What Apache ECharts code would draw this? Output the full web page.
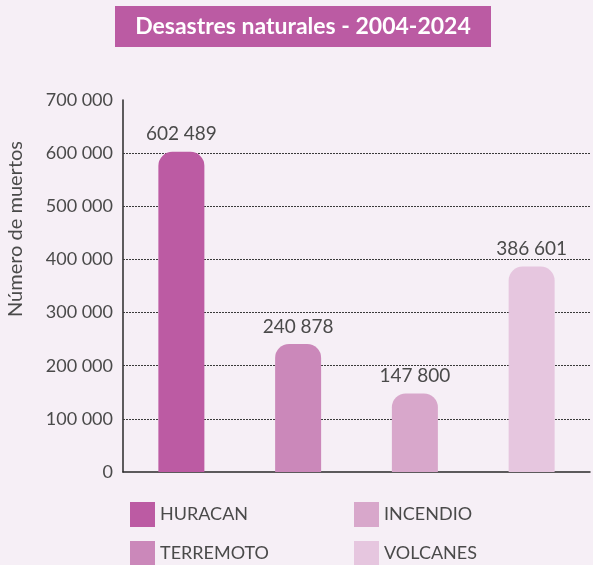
<!DOCTYPE html>
<html>
<head>
<meta charset="utf-8">
<script src="https://cdn.jsdelivr.net/npm/echarts@6/dist/echarts.min.js"></script>
<style>
  html, body { margin: 0; padding: 0; background: #f6eff6; }
  #chart { width: 593px; height: 565px; }
</style>
</head>
<body>
<div id="chart"></div>
<script>
// Deaths from natural disasters, 2004-2024
const categories = ['HURACAN', 'TERREMOTO', 'INCENDIO', 'VOLCANES'];
const deaths = [602489, 240878, 147800, 386601];
const barColors = ['#bc5ba3', '#cb88ba', '#d8a7cb', '#e6c6df'];
const gridValues = [100000, 200000, 300000, 400000, 500000, 600000];

const fmt = v => String(v).replace(/\B(?=(\d{3})+(?!\d))/g, ' ');
const FONT = 'Lato, "Open Sans", sans-serif';
const TEXT = '#4a4a4a';

// one series per disaster so each gets its own legend entry
const series = categories.map((name, i) => ({
  name,
  type: 'bar',
  stack: 'all',
  barWidth: 46,
  data: deaths.map((v, j) => (j === i ? v : '-')),
  itemStyle: { color: barColors[i], borderRadius: [14, 14, 0, 0] },
  label: {
    show: true,
    position: 'top',
    distance: 8,
    formatter: p => fmt(p.value),
    fontFamily: FONT,
    fontSize: 19,
    color: TEXT
  },
  markLine: i === 0 ? {
    silent: true,
    symbol: 'none',
    label: { show: false },
    lineStyle: { type: [2, 1], color: '#3a3a3a', width: 1 },
    data: gridValues.map(v => ({ yAxis: v })),
    z: 1
  } : undefined
}));

const legendBase = {
  orient: 'vertical', top: 502, height: 100, padding: 0,
  icon: 'rect', itemWidth: 25, itemHeight: 25, itemGap: 14,
  selectedMode: false,
  textStyle: { fontFamily: FONT, fontSize: 18, color: TEXT }
};

const chart = echarts.init(document.getElementById('chart'));
chart.setOption({
  backgroundColor: '#f6eff6',
  animation: false,
  graphic: [
    { type: 'rect', shape: { x: 115, y: 6, width: 376, height: 41 }, style: { fill: '#bb5ba3' } },
    {
      type: 'text', x: 303, y: 27,
      style: {
        text: 'Desastres naturales - 2004-2024',
        fill: '#ffffff', font: 'bold 23px ' + FONT,
        align: 'center', verticalAlign: 'middle'
      }
    }
  ],
  grid: { left: 123, right: 3, top: 100, bottom: 93, outerBoundsMode: 'none', containLabel: false },
  xAxis: {
    type: 'category',
    data: categories,
    axisLine: { lineStyle: { color: '#2a2a2a', width: 1.5 } },
    axisTick: { show: false },
    axisLabel: { show: false }
  },
  yAxis: {
    type: 'value',
    min: 0, max: 700000, interval: 100000,
    name: 'Número de muertos',
    nameLocation: 'middle',
    nameGap: 97,
    nameRotate: 90,
    nameTextStyle: { fontFamily: FONT, fontSize: 20, color: TEXT, padding: [0, 0, 0, 114] },
    axisLine: { show: true, lineStyle: { color: '#2a2a2a', width: 1.5 } },
    axisTick: { show: false },
    splitLine: { show: false },
    axisLabel: {
      margin: 10,
      formatter: v => fmt(v),
      fontFamily: FONT, fontSize: 18, color: TEXT
    }
  },
  legend: [
    Object.assign({ data: ['HURACAN', 'TERREMOTO'], left: 130 }, legendBase),
    Object.assign({ data: ['INCENDIO', 'VOLCANES'], left: 354 }, legendBase)
  ],
  series
});
</script>
</body>
</html>
